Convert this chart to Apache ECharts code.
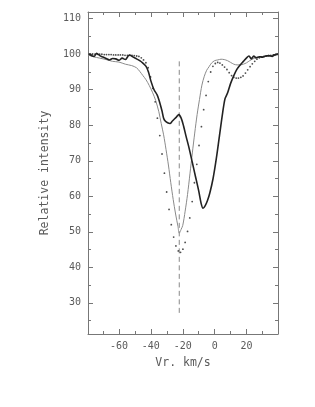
<!DOCTYPE html>
<html><head><meta charset="utf-8">
<script src="https://cdn.jsdelivr.net/npm/echarts@6/dist/echarts.min.js"></script>
<style>html,body{margin:0;padding:0;background:#fff}#c{width:315px;height:407px}</style>
</head><body><div id="c"></div>
<script>
// Thick (black) profile
const thickVr = [-79,-77,-75.5,-74,-72,-70,-68,-66,-64,-62,-60,-58,-56,-53.5,-51,-49,-47,-45,-43,-41.5,-40,-38,-36,-34.5,-33,-32,-31,-29.5,-28,-26.5,-24,-22.5,-21,-19.5,-18,-16,-14,-12,-10,-8.5,-7.3,-6,-4.5,-3,-1,1,3,5,6.5,8,10,12,14,16,18,20,21.5,23,24.5,26,28,30,32,34,36,37.5,39.7];
const thickI  = [100.2,99.6,99.4,100.3,99.6,99.2,98.8,98.4,98.8,98.7,98.3,98.9,98.5,99.8,99.2,98.7,98.2,97.5,96.6,95.0,92.5,90.0,88.5,86.5,84.0,82.0,81.2,80.7,80.5,81.2,82.3,83.0,82.0,79.8,77.0,73.5,69.5,65.5,61.5,58.0,56.6,57.3,58.8,61.0,65.0,70.5,77.0,83.5,87.5,89.0,91.8,94.0,95.8,97.0,98.0,99.0,99.5,98.7,99.5,99.0,99.3,99.2,99.5,99.6,99.4,99.8,100.1];
// Thin (grey) profile
const thinVr = [-79.4,-76,-72,-68,-64,-60,-56,-52,-49,-47,-45,-43,-41,-39,-37,-35,-33.5,-32,-30.5,-29,-27.5,-26,-24.5,-23,-22.2,-21,-20,-18.5,-17,-15.5,-14,-12.5,-11,-9.5,-8,-6.5,-5,-3.5,-2,0,2,4,6,8,10,12,14,16,18,20,22,24,26,28,31,34,37,39.7];
const thinI  = [99.8,99.3,98.9,98.5,98.0,97.8,97.2,96.8,96.2,95.2,94.0,92.8,91.2,89.3,87.0,83.8,80.5,77.3,73.2,68.8,63.8,59.1,55.0,51.5,49.6,50.7,51.8,55.8,60.5,66.3,72.2,77.8,83.0,87.3,91.3,93.8,95.5,96.5,97.5,98.2,98.4,98.6,98.5,98.2,97.7,97.2,97.0,97.0,97.2,97.6,98.2,98.7,99.0,99.2,99.4,99.5,99.7,99.8];
// Dotted profile
const dotVr = [-77.9,-76.5,-75.0,-73.6,-72.1,-70.7,-69.2,-67.8,-66.3,-64.9,-63.4,-62.0,-60.5,-59.1,-57.6,-56.2,-54.7,-53.3,-51.8,-50.4,-48.9,-47.5,-46.0,-44.6,-43.1,-41.7,-40.2,-38.8,-37.3,-35.9,-34.4,-33.0,-31.5,-30.1,-28.6,-27.2,-25.7,-24.3,-22.8,-21.4,-19.9,-18.5,-17.0,-15.6,-14.1,-12.7,-11.2,-9.8,-8.3,-6.9,-5.4,-4.0,-2.5,-1.1,0.4,1.9,3.3,4.8,6.2,7.7,9.1,10.6,12.0,13.5,14.9,16.4,17.8,19.3,20.7,22.2,23.6,25.1,26.5,28.0,29.4,30.9,32.3,33.8,35.2,36.7,38.1];
const dotI  = [100.1,100.1,100.0,100.0,100.0,100.0,99.9,99.9,99.9,99.9,99.8,99.8,99.8,99.8,99.8,99.7,99.7,99.7,99.7,99.6,99.5,99.4,99.0,98.4,97.6,96.2,93.6,90.4,86.6,82.0,77.1,71.9,66.5,61.2,56.3,52.0,48.5,46.0,44.6,44.2,45.1,47.0,50.1,53.9,58.5,63.8,69.0,74.3,79.6,84.4,88.4,92.3,95.0,96.6,97.4,97.7,97.5,97.0,96.4,95.7,94.8,94.0,93.5,93.3,93.3,93.5,93.9,94.7,95.6,96.5,97.3,98.0,98.6,99.0,99.2,99.4,99.5,99.6,99.7,99.8,99.9];
// Dashed reference velocity
const refVr = [-22.2, -22.2];
const refI  = [98, 27];
// Ticks
const xMajor = [-60,-40,-20,0,20];
const xMinor = [-70,-50,-30,-10,10,30];
const yMajor = [30,40,50,60,70,80,90,100,110];
const yMinor = [25,35,45,55,65,75,85,95,105];

const zip = (a,b) => a.map((v,i)=>[v,b[i]]);
const X0=-79.4, X1=39.7, Y0=21.2, Y1=111.9;
const AX='#777', TX='#5a5a5a', FONT='DejaVu Sans Mono';
function xa(pos, ticks, len, label, line, extra){
  return Object.assign({type:'value', position:pos, min:X0, max:X1,
    axisLine:{show:line, onZero:false, lineStyle:{color:AX,width:1}},
    axisTick:{show:true, inside:true, length:len, customValues:ticks, lineStyle:{color:AX}},
    axisLabel:{show:label, customValues:ticks, color:TX, fontFamily:FONT, fontSize:10, margin:7},
    splitLine:{show:false}}, extra||{});
}
function ya(pos, ticks, len, label, line, extra){
  return Object.assign({type:'value', position:pos, min:Y0, max:Y1,
    axisLine:{show:line, onZero:false, lineStyle:{color:AX,width:1}},
    axisTick:{show:true, inside:true, length:len, customValues:ticks, lineStyle:{color:AX}},
    axisLabel:{show:label, customValues:ticks, color:TX, fontFamily:FONT, fontSize:10, margin:7},
    splitLine:{show:false}}, extra||{});
}
const chart = echarts.init(document.getElementById('c'), null, {renderer:'canvas'});
chart.setOption({
  animation:false,
  grid:{left:88, right:37, top:12, bottom:73, containLabel:false},
  xAxis:[
    xa('bottom', xMajor, 5, true, true, {name:'Vr. km/s', nameLocation:'middle', nameGap:23, nameTextStyle:{color:TX, fontFamily:FONT, fontSize:11.5}}),
    xa('bottom', xMinor, 3, false, false),
    xa('top', xMajor, 5, false, true),
    xa('top', xMinor, 3, false, false)
  ],
  yAxis:[
    ya('left', yMajor, 5, true, true, {name:'Relative intensity', nameLocation:'middle', nameGap:37, nameTextStyle:{color:TX, fontFamily:FONT, fontSize:11.5}}),
    ya('left', yMinor, 3, false, false),
    ya('right', yMajor, 5, false, true),
    ya('right', yMinor, 3, false, false)
  ],
  series:[
    {type:'line', data:zip(refVr,refI), symbol:'none', lineStyle:{color:'#888', width:1, type:[5,3.5]}, z:1},
    {type:'line', data:zip(thinVr,thinI), symbol:'none', smooth:0.3, lineStyle:{color:'#8a8a8a', width:1}, z:2},
    {type:'line', data:zip(thickVr,thickI), symbol:'none', smooth:0.3, lineStyle:{color:'#222', width:1.6}, z:3},
    {type:'scatter', data:zip(dotVr,dotI), symbol:'circle', symbolSize:1.8, itemStyle:{color:'#222'}, z:4}
  ]
});
</script></body></html>
